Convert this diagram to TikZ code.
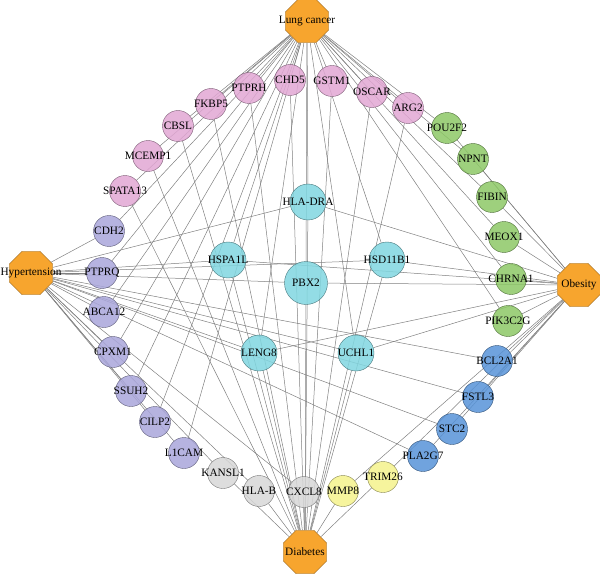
\documentclass[tikz,border=0pt]{standalone}
\usepackage{fontspec}
\setmainfont{Liberation Serif}
\usetikzlibrary{shapes.geometric, backgrounds}
\definecolor{hubc}{HTML}{F7A52E}
\definecolor{pinkc}{HTML}{E2A7D4}
\definecolor{purpc}{HTML}{A9A6DB}
\definecolor{greenc}{HTML}{8DC866}
\definecolor{bluec}{HTML}{5793D8}
\definecolor{yellc}{HTML}{F4F28C}
\definecolor{grayc}{HTML}{D7D7D7}
\definecolor{cyanc}{HTML}{80D6E0}

\begin{document}
\begin{tikzpicture}[x=1pt, y=-1pt,
  font=\fontsize{11.3}{13}\selectfont,
  hub/.style={regular polygon, regular polygon sides=8, draw=hubc!60!black, fill=hubc, minimum size=47pt, inner sep=0pt},
  gene/.style={circle, draw=#1!55!black, fill=#1, fill opacity=0.85, minimum size=31pt, inner sep=0pt},
  core/.style={gene=cyanc, minimum size=36pt},
  link/.style={line width=0.5pt, black!50}
]
  \useasboundingbox (0,0) rectangle (600,575);

  % Diseases
  \node[hub, label=center:Lung cancer] (lc) at (307,21) {};
  \node[hub, label=center:Hypertension] (ht) at (31,273) {};
  \node[hub, label=center:Obesity] (ob) at (579,285) {};
  \node[hub, label=center:Diabetes] (db) at (305,552) {};

  % Lung cancer + diabetes
  \node[gene=pinkc, label=center:SPATA13] (spata13) at (125,191) {};
  \node[gene=pinkc, label=center:MCEMP1] (mcemp1) at (148,156) {};
  \node[gene=pinkc, label=center:CBSL] (cbsl) at (178,126) {};
  \node[gene=pinkc, label=center:FKBP5] (fkbp5) at (211,104) {};
  \node[gene=pinkc, label=center:PTPRH] (ptprh) at (249,88) {};
  \node[gene=pinkc, label=center:CHD5] (chd5) at (290,80) {};
  \node[gene=pinkc, label=center:GSTM1] (gstm1) at (332,81) {};
  \node[gene=pinkc, label=center:OSCAR] (oscar) at (372,92) {};
  \node[gene=pinkc, label=center:ARG2] (arg2) at (408,108) {};

  % Lung cancer + obesity
  \node[gene=greenc, label=center:POU2F2] (pou2f2) at (447,128) {};
  \node[gene=greenc, label=center:NPNT] (npnt) at (473,159) {};
  \node[gene=greenc, label=center:FIBIN] (fibin) at (492,197) {};
  \node[gene=greenc, label=center:MEOX1] (meox1) at (504,237) {};
  \node[gene=greenc, label=center:CHRNA1] (chrna1) at (511,279) {};
  \node[gene=greenc, label=center:PIK3C2G] (pik3c2g) at (508,321) {};

  % Hypertension + obesity
  \node[gene=bluec, label=center:BCL2A1] (bcl2a1) at (497,361) {};
  \node[gene=bluec, label=center:FSTL3] (fstl3) at (478,397) {};
  \node[gene=bluec, label=center:STC2] (stc2) at (452,429) {};
  \node[gene=bluec, label=center:PLA2G7] (pla2g7) at (423,456) {};

  % Diabetes + obesity
  \node[gene=yellc, label=center:TRIM26] (trim26) at (383,477) {};
  \node[gene=yellc, label=center:MMP8] (mmp8) at (343,491) {};

  % Hypertension + diabetes
  \node[gene=grayc, label=center:CXCL8] (cxcl8) at (304,492) {};
  \node[gene=grayc, label=center:HLA-B] (hlab) at (259,491) {};
  \node[gene=grayc, label=center:KANSL1] (kansl1) at (223,473) {};

  % Lung cancer + hypertension
  \node[gene=purpc, label=center:L1CAM] (l1cam) at (184,453) {};
  \node[gene=purpc, label=center:CILP2] (cilp2) at (155,422) {};
  \node[gene=purpc, label=center:SSUH2] (ssuh2) at (131,391) {};
  \node[gene=purpc, label=center:CPXM1] (cpxm1) at (113,352) {};
  \node[gene=purpc, label=center:ABCA12] (abca12) at (104,312) {};
  \node[gene=purpc, label=center:PTPRQ] (ptprq) at (102,273) {};
  \node[gene=purpc, label=center:CDH2] (cdh2) at (109,231) {};

  % All four
  \node[core, label=center:HLA-DRA] (hladra) at (308,202) {};
  \node[core, label=center:HSPA1L] (hspa1l) at (228,260) {};
  \node[core, label=center:HSD11B1] (hsd11b1) at (387,260) {};
  \node[core, minimum size=43pt, label=center:PBX2] (pbx2) at (306,283) {};
  \node[core, label=center:LENG8] (leng8) at (259,353) {};
  \node[core, label=center:UCHL1] (uchl1) at (356,353) {};

  % Links
  \begin{scope}[on background layer]
    \foreach \g in {spata13,mcemp1,cbsl,fkbp5,ptprh,chd5,gstm1,oscar,arg2,
      pou2f2,npnt,fibin,meox1,chrna1,pik3c2g,
      l1cam,cilp2,ssuh2,cpxm1,abca12,ptprq,cdh2,
      hladra,hspa1l,hsd11b1,pbx2,leng8,uchl1}
      \draw[link] (lc) -- (\g);
    \foreach \g in {l1cam,cilp2,ssuh2,cpxm1,abca12,ptprq,cdh2,
      cxcl8,hlab,kansl1,bcl2a1,fstl3,stc2,pla2g7,
      hladra,hspa1l,hsd11b1,pbx2,leng8,uchl1}
      \draw[link] (ht) -- (\g);
    \foreach \g in {pou2f2,npnt,fibin,meox1,chrna1,pik3c2g,
      bcl2a1,fstl3,stc2,pla2g7,trim26,mmp8,
      hladra,hspa1l,hsd11b1,pbx2,leng8,uchl1}
      \draw[link] (ob) -- (\g);
    \foreach \g in {spata13,mcemp1,cbsl,fkbp5,ptprh,chd5,gstm1,oscar,arg2,
      trim26,mmp8,cxcl8,hlab,kansl1,
      hladra,hspa1l,hsd11b1,pbx2,leng8,uchl1}
      \draw[link] (db) -- (\g);
  \end{scope}
\end{tikzpicture}
\end{document}
